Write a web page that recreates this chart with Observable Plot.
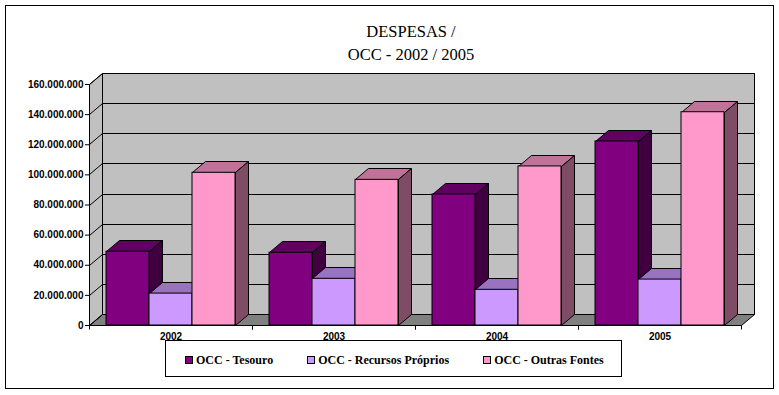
<!DOCTYPE html>
<html><head><meta charset="utf-8">
<script src="https://cdn.jsdelivr.net/npm/d3@7"></script>
<script src="https://cdn.jsdelivr.net/npm/@observablehq/plot@0.6"></script>
<style>
body{margin:0;background:#fff;}
#wrap{position:relative;width:779px;height:395px;overflow:hidden;background:#fff;}
#chart{position:absolute;left:0;top:0;}
#border{position:absolute;left:5px;top:5px;width:767px;height:382px;border:1px solid #000;pointer-events:none;}
#title{position:absolute;left:0;top:20px;width:822px;text-align:center;font-family:"Liberation Serif",serif;font-size:16.5px;line-height:23px;color:#000;}
#legend{position:absolute;left:165px;top:340px;width:457px;height:37px;border:1px solid #000;display:flex;align-items:center;gap:34px;padding-left:19px;box-sizing:border-box;font-family:"Liberation Serif",serif;font-weight:bold;font-size:12px;color:#000;}
#legend .it{display:flex;align-items:center;white-space:nowrap;padding-top:3px;}
#legend .sw{width:6px;height:6px;border:1px solid #000;margin-right:3px;}
</style></head>
<body>
<div id="wrap">
  <div id="chart"></div>
  <div id="title">DESPESAS /<br>OCC - 2002 / 2005</div>
  <div id="legend"></div>
  <div id="border"></div>
</div>
<script>
const years = ["2002", "2003", "2004", "2005"];
const seriesNames = ["OCC - Tesouro", "OCC - Recursos Próprios", "OCC - Outras Fontes"];
const tesouro = [49.0e6, 48.3e6, 87.0e6, 122.2e6];
const recursos = [21.2e6, 31.0e6, 23.7e6, 30.5e6];
const outras = [101.4e6, 96.7e6, 105.6e6, 141.6e6];
const yTicks = [0, 20e6, 40e6, 60e6, 80e6, 100e6, 120e6, 140e6, 160e6];
const yTickLabels = ["0", "20.000.000", "40.000.000", "60.000.000", "80.000.000", "100.000.000", "120.000.000", "140.000.000", "160.000.000"];
const frontColors = ["#800080", "#CC99FF", "#FF99CC"];
const topColors = ["#600060", "#9973BF", "#BF7399"];
const sideColors = ["#400040", "#664C80", "#7F4C66"];

const seriesValues = [tesouro, recursos, outras];
const rows = years.flatMap((year, i) => seriesNames.map((s, j) => ({year, series: s, value: seriesValues[j][i]})));

const DX = 13, DY = 11; // 3D depth offset (pixels)
const R = Math.round;
function pathOf(pts) { return "M" + pts.map(p => R(p[0]) + "," + R(p[1])).join("L") + "Z"; }
function lineOf(a, b) { return "M" + R(a[0]) + "," + R(a[1]) + "L" + R(b[0]) + "," + R(b[1]); }
function newG() { return d3.create("svg:g").attr("transform", "translate(0.5,0.5)"); }
function yOf(scales, dim) {
  return scales.y || d3.scaleLinear([yTicks[0], yTicks[yTicks.length - 1]], [dim.height - dim.marginBottom, dim.marginTop]);
}

// whole-plot (super) walls and floor
function wallsRender(index, scales, values, dim) {
  const g = newG();
  const y = yOf(scales, dim);
  const xa = dim.marginLeft, xb = dim.width - dim.marginRight;
  const y0 = y(yTicks[0]), yt = y(yTicks[yTicks.length - 1]);
  // back wall
  g.append("path").attr("d", pathOf([[xa + DX, y0 - DY], [xb + DX, y0 - DY], [xb + DX, yt - DY], [xa + DX, yt - DY]])).attr("fill", "#C0C0C0").attr("stroke", "#000");
  // floor
  g.append("path").attr("d", pathOf([[xa, y0], [xb, y0], [xb + DX, y0 - DY], [xa + DX, y0 - DY]])).attr("fill", "#808080").attr("stroke", "#000");
  // back gridlines
  g.append("path").attr("d", yTicks.map(t => lineOf([xa + DX, y(t) - DY], [xb + DX, y(t) - DY])).join("")).attr("stroke", "#000").attr("fill", "none");
  // left side wall
  g.append("path").attr("d", pathOf([[xa, y0], [xa + DX, y0 - DY], [xa + DX, yt - DY], [xa, yt]])).attr("fill", "#C0C0C0").attr("stroke", "#000");
  g.append("path").attr("d", yTicks.map(t => lineOf([xa, y(t)], [xa + DX, y(t) - DY])).join("")).attr("stroke", "#000").attr("fill", "none");
  return g.node();
}
// x tick marks at facet boundaries
function ticksRender(index, scales, values, dim) {
  const g = newG();
  const xa = dim.marginLeft, xb = dim.width - dim.marginRight, y0 = scales.y(0);
  g.append("path").attr("d", lineOf([xa, y0], [xa, y0 + 4]) + lineOf([xb, y0], [xb, y0 + 4])).attr("stroke", "#000").attr("fill", "none");
  return g.node();
}
// top & side faces of the bars
function prismRender(index, scales, values) {
  const g = newG();
  const bw = scales.x.bandwidth();
  for (const i of index) {
    const j = seriesNames.indexOf(rows[i].series);
    const x0 = values.x[i], x1 = x0 + bw;
    const yt = Math.min(values.y1[i], values.y2[i]), yb = Math.max(values.y1[i], values.y2[i]);
    g.append("path").attr("d", pathOf([[x0, yt], [x1, yt], [x1 + DX, yt - DY], [x0 + DX, yt - DY]])).attr("fill", topColors[j]).attr("stroke", "#000");
    g.append("path").attr("d", pathOf([[x1, yt], [x1 + DX, yt - DY], [x1 + DX, yb - DY], [x1, yb]])).attr("fill", sideColors[j]).attr("stroke", "#000");
  }
  return g.node();
}

const plot = Plot.plot({
  width: 779, height: 395,
  marginLeft: 88, marginRight: 37, marginTop: 84, marginBottom: 70,
  style: {fontFamily: "'Liberation Sans', Arial, sans-serif", fontSize: "10px", fontWeight: "bold", color: "#000", background: "transparent", overflow: "visible"},
  fx: {domain: years, padding: 0, round: true, axis: "bottom", tickSize: 0, tickPadding: 7, label: null},
  x: {domain: seriesNames, paddingInner: 0, paddingOuter: 0.39, round: true, axis: null},
  y: {domain: [0, 160e6], ticks: yTicks, tickFormat: d => yTickLabels[yTicks.indexOf(d)], tickSize: 4, tickPadding: 2, label: null},
  color: {domain: seriesNames, range: frontColors},
  marks: [
    Plot.frame({stroke: "none", facet: "super", render: wallsRender}),
    Plot.frame({stroke: "none", render: ticksRender}),
    Plot.barY(rows, {fx: "year", x: "series", y: "value", render: prismRender}),
    Plot.barY(rows, {fx: "year", x: "series", y: "value", fill: "series", stroke: "#000", strokeWidth: 1})
  ]
});
document.getElementById("chart").appendChild(plot);

const legend = d3.select("#legend");
seriesNames.forEach((s, j) => {
  const it = legend.append("div").attr("class", "it");
  it.append("div").attr("class", "sw").style("background", frontColors[j]);
  it.append("span").text(s);
});
</script>
</body></html>
